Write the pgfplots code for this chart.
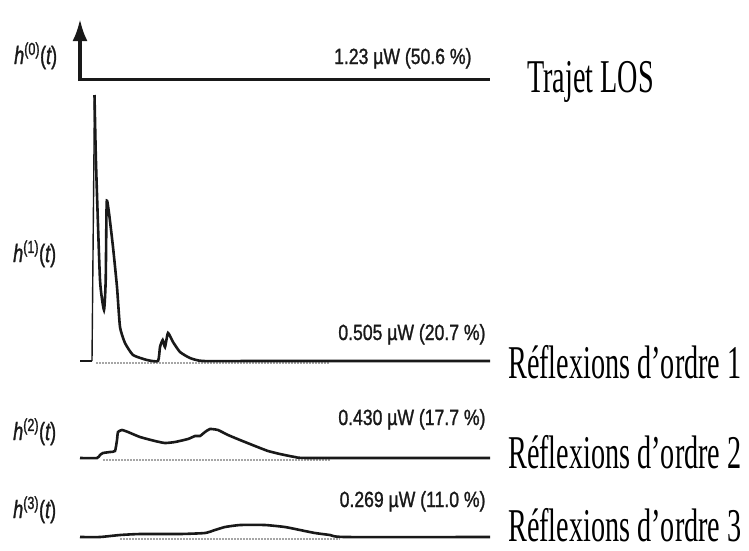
\documentclass[border=0pt]{standalone}
\usepackage{pgfplots}
\pgfplotsset{compat=1.18}
\usetikzlibrary{arrows.meta}
\usepackage{fontspec}
\setmainfont{Liberation Serif}
\newfontfamily\valfont[FakeStretch=0.8,FakeBold=1.2]{Liberation Sans}
\newfontfamily\rfont[FakeStretch=0.6]{Liberation Serif}
\newfontfamily\hfont[FakeStretch=0.72,FakeBold=1.2]{Liberation Sans}
\definecolor{ink}{RGB}{25,25,25}
\newcommand{\vlab}[1]{{\valfont\fontsize{22}{23}\selectfont #1}}
\newcommand{\rlab}[1]{{\rfont\fontsize{47}{48}\selectfont #1}}
\newcommand{\hlab}[1]{{\hfont\fontsize{25}{26}\selectfont\itshape h\textsuperscript{\upshape(#1)}\upshape(\itshape t\upshape)}}
\begin{document}
\begin{tikzpicture}
\begin{axis}[width=749pt,height=550pt,scale only axis,
  xmin=0,xmax=749,ymin=0,ymax=550,y dir=reverse,
  axis lines=none,clip=false]
% panel 0: LOS impulse
\addplot[ink,line width=3.5pt,-{Latex[length=22pt,width=15pt]}] coordinates {(80,81) (80,19)};
\addplot[ink,line width=3.4pt] coordinates {(78,79.5) (300,79.5)};
\addplot[ink,line width=2.8pt] coordinates {(300,79.5) (490,79.5)};
% panel 1
\addplot[gray!70,line width=2pt,dash pattern=on 1.5pt off 1.5pt] coordinates {(96,362.5) (330,362.5)};
\addplot[ink,line width=1.4pt] coordinates {(92,361) (94.5,96)};
\addplot[ink,line width=2.6pt] coordinates {(80,361) (92,361)};
\addplot[ink,line width=2.6pt,smooth,tension=0.3] coordinates {
(94.5,95) (96,163) (100,280) (104,310) (105.7,280) (106.7,202) (109,213)
(113,247) (117,287) (120,327) (125,343) (133,355) (147,360) (158,361)
(160,347) (162.7,340) (165,347) (168,333) (173,342) (180,352) (190,358)
(203,361) (260,361) (490,361)};
% panel 2
\addplot[gray!70,line width=2pt,dash pattern=on 1.5pt off 1.5pt] coordinates {(103,459.5) (330,459.5)};
\addplot[ink,line width=2.6pt,smooth,tension=0.3] coordinates {
(80,458) (97,458) (100,455) (103,453) (110,452) (115,451) (117,440) (118,432)
(122,430) (128,432) (140,437) (155,441) (165,443) (175,442) (188,439)
(195,436) (200,436) (205,432) (210,429) (218,430) (228,435) (240,440)
(255,446) (268,451) (280,454) (295,457) (310,458) (490,458)};
% panel 3
\addplot[gray!70,line width=2pt,dash pattern=on 1.5pt off 1.5pt] coordinates {(120,538.5) (340,538.5)};
\addplot[ink,line width=2.6pt,smooth,tension=0.3] coordinates {
(80,537) (100,537) (120,535) (140,534) (180,534) (205,533) (215,530)
(225,527) (240,525) (265,525) (285,527) (300,530) (315,533) (330,535)
(345,537) (490,537)};
% value labels
\node[anchor=base east,ink] at (axis cs:475,64) {\vlab{1.23 µW (50.6 \%)}};
\node[anchor=base east,ink] at (axis cs:489,340) {\vlab{0.505 µW (20.7 \%)}};
\node[anchor=base east,ink] at (axis cs:489,425) {\vlab{0.430 µW (17.7 \%)}};
\node[anchor=base east,ink] at (axis cs:489,507) {\vlab{0.269 µW (11.0 \%)}};
% left labels
\node[anchor=base west,ink,inner sep=0pt] at (axis cs:14,64) {\hlab{0}};
\node[anchor=base west,ink,inner sep=0pt] at (axis cs:13,262) {\hlab{1}};
\node[anchor=base west,ink,inner sep=0pt] at (axis cs:13,440) {\hlab{2}};
\node[anchor=base west,ink,inner sep=0pt] at (axis cs:13,518) {\hlab{3}};
% right labels
\node[anchor=base west,inner sep=0pt] at (axis cs:527,92) {\rlab{Trajet LOS}};
\node[anchor=base west,inner sep=0pt] at (axis cs:508,378) {\rlab{Réflexions d’ordre 1}};
\node[anchor=base west,inner sep=0pt] at (axis cs:508,468) {\rlab{Réflexions d’ordre 2}};
\node[anchor=base west,inner sep=0pt,text depth=0pt] at (axis cs:508,541) {\rlab{Réflexions d’ordre 3}};
\end{axis}
\pgfresetboundingbox
\useasboundingbox (current axis.south west) rectangle (current axis.north east);
\end{tikzpicture}
\end{document}
